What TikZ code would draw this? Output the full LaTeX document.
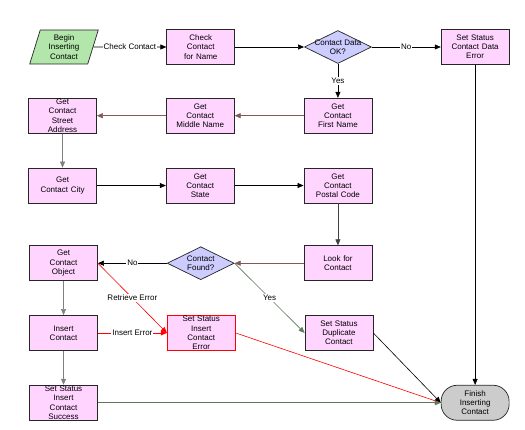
\documentclass[tikz,border=0pt]{standalone}
\usepackage{fontspec}
\setmainfont{Liberation Sans}
\usepackage{tikz}
\usetikzlibrary{shapes,arrows,arrows.meta,calc,positioning}

\definecolor{taskPink}{RGB}{255,212,255}
\definecolor{decBlue}{RGB}{204,204,255}
\definecolor{startGreen}{RGB}{178,230,170}
\definecolor{finishGray}{RGB}{204,204,204}
\definecolor{lineGray}{RGB}{128,128,128}
\definecolor{lineMaroon}{RGB}{130,88,88}
\definecolor{lineOlive}{RGB}{92,122,92}

\begin{document}
\begin{tikzpicture}[
	x=1pt, y=-1pt,
	node distance=34pt and 69pt,
	font=\fontsize{8}{9.2}\selectfont
	]
\tikzset{
	base/.style = { text centered, draw=black!85, line width=0.7pt, inner sep=1pt },
	task/.style = { base, rectangle, fill=taskPink, minimum width=68pt, minimum height=35pt, text width=66pt },
	errtask/.style = { task, draw=red },
	decision/.style = { base, diamond, fill=decBlue, aspect=2, minimum width=67pt, minimum height=33pt, inner xsep=-6pt, inner ysep=-3pt, align=center },
	startbox/.style = { base, trapezium, trapezium left angle=69, trapezium right angle=111, trapezium stretches=true, fill=startGreen, minimum width=69pt, minimum height=34pt, inner sep=0pt, text width=42pt },
	finishbox/.style = { base, rectangle, rounded corners=16pt, fill=finishGray, minimum width=68pt, minimum height=35pt, text width=60pt },
	arrow/.style = { line width=0.6pt, -{Triangle[length=6pt,width=5pt]} },
	lbl/.style = { fill=white, inner sep=1pt, text=black }
}
\useasboundingbox (0,0) rectangle (525,430);

	% top row
	\node (begin) [startbox] at (64,47) {Begin\\Inserting\\Contact};
	\node (checkName) [task, right=73pt of begin] {Check\\Contact\\for Name};
	\node (dataOk) [decision, right=of checkName] {Contact Data\\OK?};
	\node (dataError) [task, right=of dataOk] {Set Status\\Contact Data\\Error};

	% second row
	\node (firstName) [task, below=of dataOk] {Get\\Contact\\First Name};
	\node (middleName) [task, left=of firstName] {Get\\Contact\\Middle Name};
	\node (street) [task, left=of middleName] {Get\\Contact\\Street\\Address};

	% third row
	\node (city) [task, below=of street] {Get\\Contact City};
	\node (state) [task, right=of city] {Get\\Contact\\State};
	\node (postal) [task, right=of state] {Get\\Contact\\Postal Code};

	% fourth row
	\node (lookUp) [task, below=42pt of postal] {Look for\\Contact};
	\node (found) [decision, left=of lookUp] {Contact\\Found?};
	\node (getObject) [task, left=of found] {Get\\Contact\\Object};

	% bottom rows
	\node (insert) [task, below=of getObject] {Insert\\Contact};
	\node (insertError) [errtask, right=of insert] {Set Status\\Insert\\Contact\\Error};
	\node (duplicate) [task, right=of insertError] {Set Status\\Duplicate\\Contact};
	\node (success) [task, below=of insert] {Set Status\\Insert\\Contact\\Success};
	\node (finish) [finishbox] at (success -| dataError) {Finish\\Inserting\\Contact};

	% paths
	\draw [arrow] (begin) -- node[lbl] {Check Contact} (checkName);
	\draw [arrow] (checkName) -- (dataOk);
	\draw [arrow] (dataOk) -- node[lbl] {No} (dataError);
	\draw [arrow] (dataOk) -- node[lbl] {Yes} (firstName);

	\draw [arrow, lineMaroon] (firstName) -- (middleName);
	\draw [arrow, lineMaroon] (middleName) -- (street);
	\draw [arrow, lineGray] (street) -- (city);
	\draw [arrow] (city) -- (state);
	\draw [arrow] (state) -- (postal);
	\draw [arrow, black!75] (postal) -- (lookUp);

	\draw [arrow, lineMaroon] (lookUp) -- (found);
	\draw [arrow] (found) -- node[lbl] {No} (getObject);
	\draw [arrow, lineOlive] (found.east) -- node[lbl] {Yes} (duplicate.west);

	\draw [arrow, lineGray] (getObject) -- (insert);
	\draw [arrow, red] (getObject.east) -- node[lbl] {Retrieve Error} (insertError.west);
	\draw [arrow, red] (insert) -- node[lbl] {Insert Error} (insertError);
	\draw [arrow, lineGray] (insert) -- (success);

	% into finish
	\draw [arrow] (dataError) -- (finish);
	\draw [arrow, red] (insertError.east) -- (finish.west);
	\draw [arrow] (duplicate.east) -- (finish.west);
	\draw [arrow, lineOlive] (success) -- (finish);

\end{tikzpicture}
\end{document}
